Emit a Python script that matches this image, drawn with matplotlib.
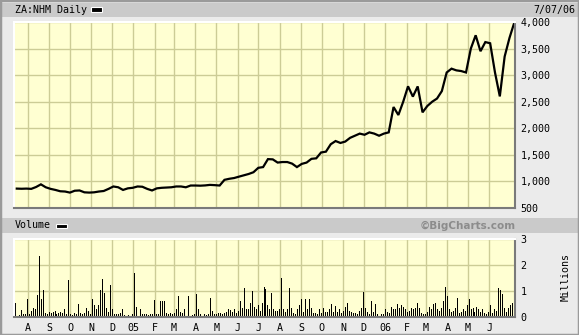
import numpy as np
import pandas as pd
import matplotlib
matplotlib.use('Agg')
import matplotlib.pyplot as plt
from matplotlib.patches import Rectangle

# cours hebdomadaires (cloture du vendredi)
semaines = pd.date_range('2004-07-16', periods=104, freq='W-FRI')
cours = [865, 862, 865, 860, 895, 945, 890, 860, 840, 815,
         810, 790, 825, 830, 795, 790, 795, 810, 820, 860,
         905, 890, 840, 870, 880, 905, 900, 860, 830, 870,
         880, 885, 890, 905, 905, 890, 923, 923, 920, 925,
         935, 930, 923, 1030, 1050, 1064, 1090, 1115, 1140, 1173,
         1256, 1270, 1420, 1415, 1355, 1365, 1365, 1335, 1270, 1330,
         1355, 1425, 1435, 1545, 1560, 1700, 1760, 1724, 1750, 1820,
         1860, 1900, 1878, 1923, 1900, 1860, 1900, 1923, 2400, 2250,
         2500, 2790, 2596, 2788, 2300, 2420, 2500, 2560, 2700, 3050,
         3122, 3090, 3077, 3050, 3500, 3750, 3450, 3622, 3600, 3050,
         2600, 3350, 3700, 3990]

# volume (millions), un baton pour ~2 seances
volume = [0.55, 0.05, 0.08, 0.27, 0.1, 0.12, 0.7, 0.1, 0.25, 0.35,
          0.3, 0.85, 2.35, 0.7, 1.05, 0.15, 0.12, 0.2, 0.15, 0.2,
          0.25, 0.1, 0.15, 0.2, 0.15, 0.3, 0.1, 1.42, 0.1, 0.08,
          0.15, 0.12, 0.5, 0.15, 0.1, 0.15, 0.35, 0.25, 0.1, 0.68,
          0.45, 0.3, 0.45, 1.05, 1.47, 0.93, 0.35, 0.2, 1.22, 0.3,
          0.1, 0.12, 0.1, 0.15, 0.3, 0.08, 0.05, 0.08, 0.05, 0.1,
          1.7, 0.4, 0.05, 0.3, 0.1, 0.12, 0.1, 0.08, 0.12, 0.1,
          0.65, 0.1, 0.12, 0.62, 0.62, 0.62, 0.15, 0.12, 0.15, 0.1,
          0.15, 0.3, 0.8, 0.2,
          0.15, 0.32, 0.05, 0.8, 0.05, 0.08, 0.1, 0.87, 0.3, 0.1,
          0.05, 0.1, 0.08, 0.1, 0.75, 0.25, 0.1, 0.1, 0.15, 0.15,
          0.12, 0.15, 0.2, 0.3, 0.28, 0.2, 0.3, 0.15, 0.25, 0.6,
          0.35, 1.13, 0.3, 0.3, 0.55, 1.0, 0.4, 0.3, 0.45, 0.25,
          0.55, 1.15, 1.06, 0.45, 0.3, 0.93, 0.3, 0.25, 0.25, 0.3,
          1.5, 0.3, 0.2, 0.3, 1.13, 0.35, 0.15, 0.12, 0.3, 0.45,
          0.68, 0.2, 0.68, 0.3, 0.7, 0.35, 0.15, 0.15, 0.12, 0.3,
          0.15, 0.35, 0.2, 0.2, 0.3, 0.5, 0.2, 0.42, 0.2, 0.3,
          0.15, 0.25, 0.4, 0.55,
          0.25, 0.2, 0.15, 0.15, 0.12, 0.25, 0.35, 0.96, 0.35, 0.2,
          0.1, 0.62, 0.2, 0.5, 0.1, 0.05, 0.1, 0.1, 0.3, 0.2,
          0.15, 0.4, 0.3, 0.3, 0.5, 0.35, 0.45, 0.4, 0.3, 0.2,
          0.25, 0.35, 0.3, 0.35, 0.55, 0.35, 0.15, 0.1, 0.12, 0.2,
          0.4, 0.3, 0.5, 0.55, 0.3, 0.25, 0.35, 0.62, 1.15, 0.8,
          0.3, 0.2, 0.25, 0.35, 0.73, 0.15, 0.2, 0.3, 0.25, 0.45,
          0.68, 0.3, 0.35, 0.2, 0.4, 0.3, 0.2, 0.3, 0.15, 0.1,
          0.2, 0.45, 0.15, 0.3, 0.25, 1.1, 1.05, 0.9, 0.35, 0.2,
          0.35, 0.45, 0.55, 0.6]
dates_vol = pd.date_range('2004-07-13', '2006-07-07', periods=len(volume))

mois = pd.date_range('2004-08-01', periods=23, freq='MS')
mois_labels = ['A', 'S', 'O', 'N', 'D', '05', 'F', 'M', 'A', 'M', 'J', 'J',
               'A', 'S', 'O', 'N', 'D', '06', 'F', 'M', 'A', 'M', 'J']
prix_ticks = [500, 1000, 1500, 2000, 2500, 3000, 3500, 4000]
prix_labels = ['500', '1,000', '1,500', '2,000', '2,500', '3,000', '3,500', '4,000']
vol_ticks = [0, 1, 2, 3]

W, H = 579, 335
FOND = '#ebebeb'
BANDE = '#cacaca'
JAUNE = '#ffffd2'
GRILLE = '#cccc96'
MONO = 'DejaVu Sans Mono'
TAILLE = 7.2

def fx(px):
    return px / W

def fy(py):
    return 1 - py / H

fig = plt.figure(figsize=(W / 100, H / 100), dpi=100, facecolor=FOND)

# bandes grises de titre
fig.patches.append(Rectangle((fx(2), fy(17)), fx(577), 14 / H, transform=fig.transFigure,
                             facecolor=BANDE, edgecolor='none', zorder=0))
fig.patches.append(Rectangle((fx(2), fy(233)), fx(577), 15 / H, transform=fig.transFigure,
                             facecolor=BANDE, edgecolor='none', zorder=0))
# cadre exterieur
fig.patches.append(Rectangle((0, 0), 1, 1, transform=fig.transFigure, fill=False,
                             edgecolor='#9a9a9a', lw=2.5, zorder=5))

fig.text(fx(15), fy(10), 'ZA:NHM Daily', fontsize=TAILLE, family=MONO, va='center', ha='left')
fig.patches.append(Rectangle((fx(91), fy(11.5)), 11 / W, 4 / H, transform=fig.transFigure,
                             facecolor='black', edgecolor='white', lw=0.8, zorder=3))
fig.text(fx(575), fy(10), '7/07/06', fontsize=TAILLE, family=MONO, va='center', ha='right')

fig.text(fx(15), fy(225.5), 'Volume', fontsize=TAILLE, family=MONO, va='center', ha='left')
fig.patches.append(Rectangle((fx(56), fy(227.5)), 11 / W, 4 / H, transform=fig.transFigure,
                             facecolor='black', edgecolor='white', lw=0.8, zorder=3))
fig.text(fx(516), fy(225.5), '\u00a9BigCharts.com', fontsize=7.5, fontweight='bold',
         color='#8c8c8c', va='center', ha='right')
fig.text(fx(566), fy(277), 'Millions', fontsize=TAILLE, family=MONO, rotation=90,
         va='center', ha='center')

xmin = pd.Timestamp('2004-07-12')
xmax = pd.Timestamp('2006-07-08')

def habiller(ax):
    ax.set_facecolor(JAUNE)
    ax.set_axisbelow(True)
    ax.grid(True, color=GRILLE, lw=1.0)
    ax.set_xlim(xmin, xmax)
    ax.set_xticks(mois)
    ax.yaxis.tick_right()
    ax.tick_params(length=0, labelsize=TAILLE, pad=4)
    ax.spines['top'].set_color('white')
    ax.spines['left'].set_color('white')
    ax.spines['bottom'].set_color('#7a7a7a')
    ax.spines['right'].set_color('#7a7a7a')
    for s in ax.spines.values():
        s.set_linewidth(1.5)

# graphique des cours
ax1 = fig.add_axes([fx(14), fy(208), 501 / W, 186 / H])
ax1.plot(semaines, cours, color='black', lw=1.6, solid_joinstyle='miter')
ax1.set_ylim(500, 4000)
ax1.set_yticks(prix_ticks)
ax1.set_yticklabels(prix_labels)
habiller(ax1)
ax1.set_xticklabels([])

# graphique du volume
ax2 = fig.add_axes([fx(14), fy(317), 501 / W, 78 / H])
ax2.vlines(dates_vol, 0, volume, color='black', lw=0.72, antialiased=False)
ax2.set_ylim(0, 3)
ax2.set_yticks(vol_ticks)
habiller(ax2)
ax2.set_xticklabels(mois_labels)
for lab in ax2.get_xticklabels() + ax2.get_yticklabels() + ax1.get_yticklabels():
    lab.set_family(MONO)

fig.savefig('out.png', dpi=100, facecolor=FOND)
